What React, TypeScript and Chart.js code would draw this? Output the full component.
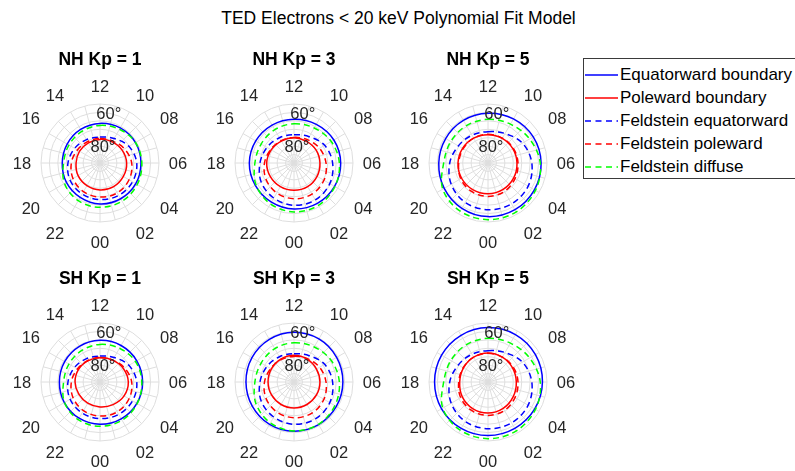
import React, { useEffect, useRef } from 'react';
import { Chart, registerables } from 'chart.js';

Chart.register(...registerables);

const FONT = '"Liberation Sans", Arial, Helvetica, sans-serif';

const MAIN_TITLE = 'TED Electrons < 20 keV Polynomial Fit Model';
const PANEL_TITLES = ['NH Kp = 1', 'NH Kp = 3', 'NH Kp = 5', 'SH Kp = 1', 'SH Kp = 3', 'SH Kp = 5'];
const LEGEND_LABELS = ['Equatorward boundary', 'Poleward boundary', 'Feldstein equatorward', 'Feldstein poleward', 'Feldstein diffuse'];

// Angular categories (MLT hours), clockwise from noon at the top
const HOUR_LABELS = ['12', '11', '10', '09', '08', '07', '06', '05', '04', '03', '02', '01',
  '00', '23', '22', '21', '20', '19', '18', '17', '16', '15', '14', '13'];
// MLT hours at which the boundaries were read (every 2 h)
const SAMPLE_MLT = ['12', '10', '08', '06', '04', '02', '00', '22', '20', '18', '16', '14'];
// Radial tick labels (magnetic latitude)
const RING_TICK_LATS = [80, 60];
const RING_TICK_LABELS = ['80°', '60°'];

// Boundary latitudes (deg) at SAMPLE_MLT
const NH_KP1_EQUATORWARD = [66.5, 66, 65.7, 65.7, 65.5, 65.5, 65.7, 66.5, 67, 67.6, 67.5, 67];
const NH_KP1_POLEWARD = [76, 75.5, 74.8, 74.2, 74, 73.8, 74, 74.5, 75, 75.8, 76, 76.2];
const NH_KP3_EQUATORWARD = [64, 63.5, 62.7, 62.3, 62.2, 62.3, 62.7, 63.2, 63.5, 63.5, 63.8, 64];
const NH_KP3_POLEWARD = [75, 75.2, 74.8, 74.6, 74.2, 73.8, 73.8, 73.8, 73.8, 73.8, 74.4, 75];
const NH_KP5_EQUATORWARD = [60.5, 59.8, 59, 58.5, 58.2, 58, 58.2, 59, 60, 60.8, 61, 60.8];
const NH_KP5_POLEWARD = [73.2, 73.1, 73, 72.8, 72.4, 72, 71.8, 71.8, 71.9, 72.2, 72.6, 73];
const SH_KP1_EQUATORWARD = [65.3, 65, 64.8, 64.7, 64.7, 64.8, 64.9, 65.2, 65.6, 65.9, 65.8, 65.6];
const SH_KP1_POLEWARD = [75.6, 75, 74, 73.2, 73.5, 74.5, 75.2, 75.5, 75.5, 75.2, 75.2, 75.5];
const SH_KP3_EQUATORWARD = [60.5, 60.5, 60.8, 61, 61, 60.8, 60.8, 61, 61.4, 61.5, 61.2, 60.8];
const SH_KP3_POLEWARD = [74.2, 74.4, 74.6, 74.6, 74.6, 74.6, 74.6, 74.6, 74.6, 74.6, 74.5, 74.3];
const SH_KP5_EQUATORWARD = [57.7, 57.5, 57.5, 57.7, 58, 58.2, 58.2, 58.2, 58.2, 58.3, 58.2, 58];
const SH_KP5_POLEWARD = [72.8, 73, 73.2, 73.2, 72.7, 72, 71.6, 71.8, 72.4, 73.2, 73.2, 73];

// Feldstein oval latitudes (deg) at SAMPLE_MLT
const FELD_KP1_EQUATORWARD = [74.6, 73.2, 70.2, 68.2, 67.7, 67.8, 68.3, 68.8, 69.5, 71, 72.6, 74];
const FELD_KP1_POLEWARD = [75.5, 75, 73.2, 71.2, 70.1, 69.5, 69.8, 70.4, 71.5, 73, 74.5, 75.4];
const FELD_KP1_DIFFUSE = [67.7, 66.9, 65.7, 65.2, 64.5, 63.8, 63.7, 64.2, 65.7, 68.4, 68.7, 68.4];
const FELD_KP3_EQUATORWARD = [73.2, 72, 69, 67.1, 65.5, 64.7, 64.9, 66, 67.5, 69.8, 71.5, 72.7];
const FELD_KP3_POLEWARD = [74.8, 74, 72.5, 71, 69.5, 68.7, 68.8, 69.5, 70.8, 72.5, 74, 74.7];
const FELD_KP3_DIFFUSE = [66.7, 66, 64.5, 63.1, 62, 61, 61, 62, 64, 66.8, 67.5, 67.2];
const FELD_KP5_EQUATORWARD = [71.4, 69.8, 66.4, 64, 62.5, 62, 62.3, 63, 64.8, 67.3, 69.7, 71];
const FELD_KP5_POLEWARD = [73, 73, 72.6, 72.2, 71.5, 70.5, 70.2, 70.5, 71.3, 72.6, 73, 73];
const FELD_KP5_DIFFUSE = [64.1, 63.4, 61.5, 59, 57.5, 56.5, 56.4, 57, 59, 63.7, 64.5, 64.4];

const PANELS = [
  { title: PANEL_TITLES[0], col: 0, row: 0, eq: NH_KP1_EQUATORWARD, po: NH_KP1_POLEWARD, fe: FELD_KP1_EQUATORWARD, fp: FELD_KP1_POLEWARD, fd: FELD_KP1_DIFFUSE },
  { title: PANEL_TITLES[1], col: 1, row: 0, eq: NH_KP3_EQUATORWARD, po: NH_KP3_POLEWARD, fe: FELD_KP3_EQUATORWARD, fp: FELD_KP3_POLEWARD, fd: FELD_KP3_DIFFUSE },
  { title: PANEL_TITLES[2], col: 2, row: 0, eq: NH_KP5_EQUATORWARD, po: NH_KP5_POLEWARD, fe: FELD_KP5_EQUATORWARD, fp: FELD_KP5_POLEWARD, fd: FELD_KP5_DIFFUSE },
  { title: PANEL_TITLES[3], col: 0, row: 1, eq: SH_KP1_EQUATORWARD, po: SH_KP1_POLEWARD, fe: FELD_KP1_EQUATORWARD, fp: FELD_KP1_POLEWARD, fd: FELD_KP1_DIFFUSE },
  { title: PANEL_TITLES[4], col: 1, row: 1, eq: SH_KP3_EQUATORWARD, po: SH_KP3_POLEWARD, fe: FELD_KP3_EQUATORWARD, fp: FELD_KP3_POLEWARD, fd: FELD_KP3_DIFFUSE },
  { title: PANEL_TITLES[5], col: 2, row: 1, eq: SH_KP5_EQUATORWARD, po: SH_KP5_POLEWARD, fe: FELD_KP5_EQUATORWARD, fp: FELD_KP5_POLEWARD, fd: FELD_KP5_DIFFUSE },
];

const BLUE = 'rgb(0,0,255)';
const RED = 'rgb(255,0,0)';
const GREEN = 'rgb(0,255,0)';
const DASH = [6, 4];
const GRID = '#dedede';
const TEXT = '#262626';

// layout
const COL_X = [100, 294, 488];
const ROW_Y = [163, 382];
const CW = 194;
const CH = 210;
const R = 59;
const PAD_L = CW / 2 - R;
const PAD_T = 115 - R;

const toSeries = (lats: number[]) =>
  HOUR_LABELS.map((h) => {
    const k = SAMPLE_MLT.indexOf(h);
    return k >= 0 ? 90 - lats[k] : null;
  });

const sgn = (v: number) => (Math.abs(v) < 1e-6 ? 0 : Math.sign(v));

const decorPlugin = {
  id: 'polarDecor',
  afterDatasetsDraw(chart: any, _args: any, opts: any) {
    const scale = chart.scales.r;
    const ctx = chart.ctx;
    const xc = scale.xCenter;
    const yc = scale.yCenter;
    ctx.save();
    ctx.fillStyle = TEXT;
    ctx.textAlign = 'center';
    ctx.textBaseline = 'middle';
    ctx.font = `16.5px ${FONT}`;
    // radial tick labels along 10 deg clockwise from top
    const a = (10 * Math.PI) / 180;
    RING_TICK_LATS.forEach((lat, i) => {
      const d = scale.getDistanceFromCenterForValue(90 - lat);
      ctx.fillText(RING_TICK_LABELS[i], xc + d * Math.sin(a), yc - d * Math.cos(a) + 1);
    });
    // hour labels (every 2 h)
    HOUR_LABELS.forEach((h, i) => {
      if (parseInt(h, 10) % 2 !== 0) return;
      const th = scale.getIndexAngle(i);
      const s = Math.sin(th);
      const c = Math.cos(th);
      const D = scale.drawingArea + 7;
      const x = xc + D * s + 12 * sgn(s);
      const y = yc - (D * c + 12 * sgn(c)) + 1 + 1.5 * Math.abs(c);
      ctx.fillText(h, x, y);
    });
    // panel title
    ctx.fillStyle = '#000';
    ctx.font = `bold 17.5px ${FONT}`;
    ctx.fillText(opts.title, xc, yc - 103);
    ctx.restore();
  },
};

export default function App() {
  const refs = useRef<(HTMLCanvasElement | null)[]>([]);

  useEffect(() => {
    const charts = PANELS.map((p, i) => {
      const canvas = refs.current[i] as HTMLCanvasElement;
      const common = { borderWidth: 1.5, pointRadius: 0, pointHoverRadius: 0, fill: false, spanGaps: true, tension: 0.35, backgroundColor: 'rgba(0,0,0,0)' };
      return new Chart(canvas, {
        type: 'radar',
        data: {
          labels: HOUR_LABELS,
          datasets: [
            { ...common, label: LEGEND_LABELS[4], data: toSeries(p.fd), borderColor: GREEN, borderDash: DASH, order: 0 },
            { ...common, label: LEGEND_LABELS[3], data: toSeries(p.fp), borderColor: RED, borderDash: DASH, order: 1 },
            { ...common, label: LEGEND_LABELS[2], data: toSeries(p.fe), borderColor: BLUE, borderDash: DASH, order: 2 },
            { ...common, label: LEGEND_LABELS[1], data: toSeries(p.po), borderColor: RED, order: 3 },
            { ...common, label: LEGEND_LABELS[0], data: toSeries(p.eq), borderColor: BLUE, order: 4 },
          ] as any,
        },
        options: {
          animation: false,
          responsive: false,
          maintainAspectRatio: false,
          events: [],
          layout: { padding: { left: PAD_L, right: CW - PAD_L - 2 * R, top: PAD_T, bottom: CH - PAD_T - 2 * R } },
          plugins: {
            legend: { display: false },
            tooltip: { enabled: false },
            title: { display: false },
            polarDecor: { title: p.title },
          } as any,
          scales: {
            r: {
              min: 0,
              max: 35,
              startAngle: 0,
              ticks: { display: false, stepSize: 5 },
              grid: { circular: true, color: GRID, lineWidth: 1 },
              angleLines: { display: true, color: GRID, lineWidth: 1 },
              pointLabels: { display: false },
            },
          },
        } as any,
        plugins: [decorPlugin],
      });
    });
    return () => charts.forEach((c) => c.destroy());
  }, []);

  const legendItems = [
    { color: BLUE, dashed: false },
    { color: RED, dashed: false },
    { color: BLUE, dashed: true },
    { color: RED, dashed: true },
    { color: GREEN, dashed: true },
  ];

  return (
    <div style={{ position: 'fixed', left: 0, top: 0, width: 795, height: 471, overflow: 'hidden', background: '#fff', fontFamily: FONT }}>
      <div style={{ position: 'absolute', left: 0, top: 8, width: 797, textAlign: 'center', fontSize: 17.5, lineHeight: '20px', color: '#000' }}>
        {MAIN_TITLE}
      </div>
      {PANELS.map((p, i) => (
        <canvas
          key={i}
          ref={(el) => {
            refs.current[i] = el;
          }}
          width={CW}
          height={CH}
          style={{ position: 'absolute', left: COL_X[p.col] - CW / 2, top: ROW_Y[p.row] - 115, width: CW, height: CH }}
        />
      ))}
      <div
        style={{
          position: 'absolute',
          left: 583,
          top: 58,
          width: 240,
          height: 121,
          boxSizing: 'border-box',
          border: '1px solid #3a3a3a',
          background: '#fff',
          paddingTop: 5,
        }}
      >
        {LEGEND_LABELS.map((lab, i) => (
          <div key={lab} style={{ display: 'flex', alignItems: 'center', height: 22.8 }}>
            <svg width={35} height={6} style={{ display: 'block', flex: 'none' }}>
              <line x1={1} y1={3} x2={34} y2={3} stroke={legendItems[i].color} strokeWidth={1.3} strokeDasharray={legendItems[i].dashed ? '6 4.5' : undefined} />
            </svg>
            <span style={{ fontSize: 17, color: '#000', whiteSpace: 'nowrap', marginLeft: 1 }}>{lab}</span>
          </div>
        ))}
      </div>
    </div>
  );
}
